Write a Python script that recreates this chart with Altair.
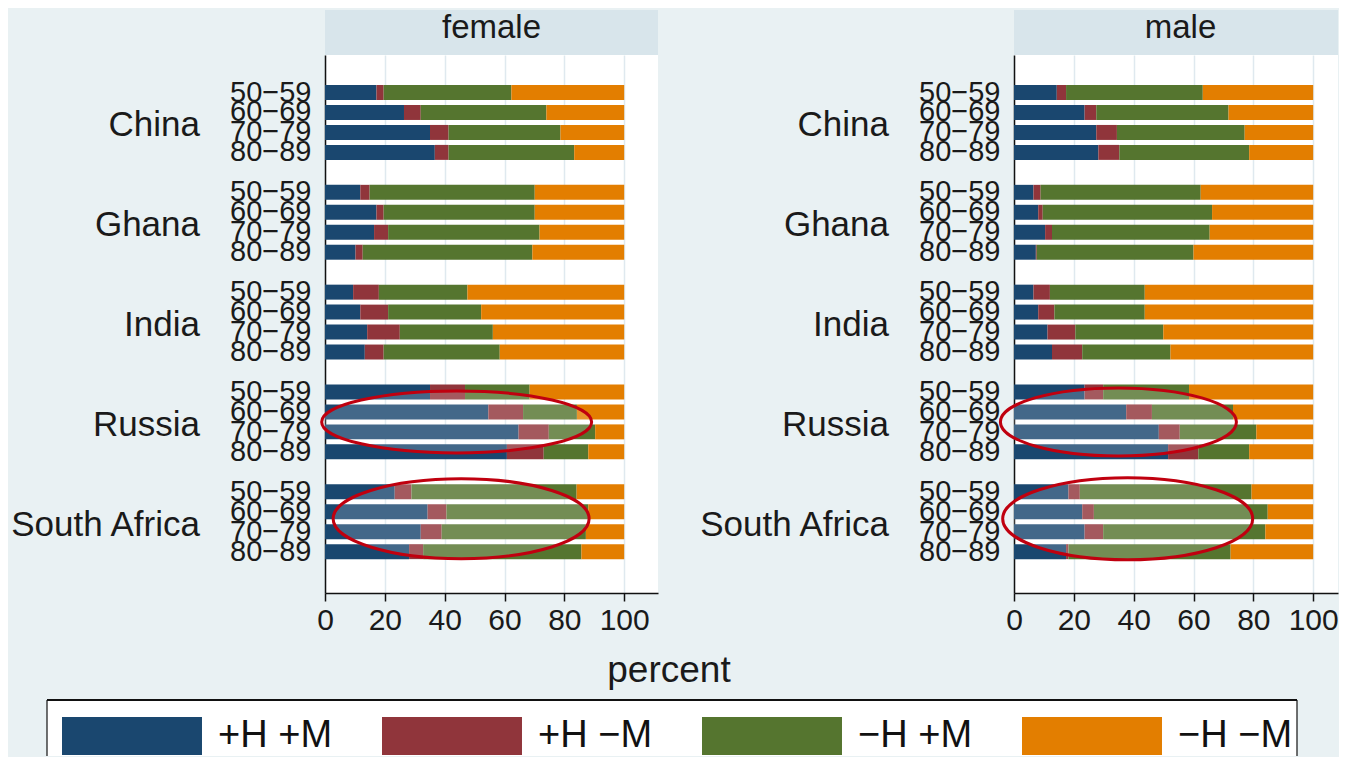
import altair as alt
import pandas as pd

# ---------------- data ----------------
countries = ["China", "Ghana", "India", "Russia", "South Africa"]
ages = ["50−59", "60−69", "70−79", "80−89"]
categories = ["+H +M", "+H −M", "−H +M", "−H −M"]
colors = ["#1a476f", "#90353b", "#55752f", "#e37e00"]
sexes = ["female", "male"]

# values ordered country by country, age groups within (percent of row)
female_hp_mp = [17.2, 26.4, 35.1, 36.7, 11.8, 17.2, 16.4, 10.2, 9.4, 11.8, 14.1, 13.3,
                35.1, 54.6, 64.7, 60.8, 23.3, 34.3, 32.0, 28.1]
female_hp_mn = [2.4, 5.6, 6.2, 4.6, 3.1, 2.4, 4.7, 2.4, 8.6, 9.3, 10.9, 6.3,
                11.7, 11.6, 10.1, 12.3, 5.6, 6.3, 7.0, 4.7]
female_hn_mp = [42.7, 42.0, 37.4, 42.0, 55.2, 50.5, 50.6, 56.7, 29.6, 31.1, 31.1, 38.8,
                21.6, 18.0, 15.5, 14.9, 55.2, 47.4, 48.2, 52.9]
female_hn_mn = [37.7, 26.0, 21.3, 16.7, 29.9, 29.9, 28.3, 30.7, 52.4, 47.8, 43.9, 41.6,
                31.6, 15.8, 9.7, 12.0, 15.9, 12.0, 12.8, 14.3]

male_hp_mp = [14.3, 23.6, 27.5, 28.2, 6.5, 8.1, 10.4, 7.3, 6.5, 8.1, 11.2, 12.7,
              23.6, 37.5, 48.4, 51.5, 18.2, 22.8, 23.6, 17.4]
male_hp_mn = [3.1, 3.9, 6.9, 7.0, 2.4, 1.5, 2.3, 0.3, 5.5, 5.4, 9.3, 10.1,
              6.2, 8.6, 7.0, 10.1, 3.8, 3.9, 6.2, 0.8]
male_hn_mp = [45.7, 44.2, 42.7, 43.4, 53.5, 56.6, 52.7, 52.4, 31.7, 30.2, 29.4, 29.5,
              28.7, 27.1, 25.6, 17.0, 57.4, 58.1, 54.2, 54.2]
male_hn_mn = [36.9, 28.3, 22.9, 21.4, 37.6, 33.8, 34.6, 40.0, 56.3, 56.3, 50.1, 47.7,
              41.5, 26.8, 19.0, 21.4, 20.6, 15.2, 16.0, 27.6]

series = {
    "female": [female_hp_mp, female_hp_mn, female_hn_mp, female_hn_mn],
    "male": [male_hp_mp, male_hp_mn, male_hn_mp, male_hn_mn],
}

# highlighted groups (annotation ellipses): centre value on x axis
highlights = {
    "female": [("Russia", 44.0), ("South Africa", 45.5)],
    "male": [("Russia", 34.9), ("South Africa", 38.0)],
}

# ---------------- tables ----------------
rows = []
for sex in sexes:
    for ci, cat in enumerate(categories):
        vals = series[sex][ci]
        i = 0
        for c in countries:
            for a in ages:
                rows.append({"sex": sex, "country": c, "age": a, "key": f"{c}|{a}",
                             "cat": cat, "ord": ci, "pct": vals[i]})
                i += 1
df = pd.DataFrame(rows)

y_domain = ["top|gap"]
for n, c in enumerate(countries):
    y_domain += [f"{c}|{a}" for a in ages]
    y_domain.append(f"{c}|gap")

FONT = "Liberation Sans"
W, H = 333, 538
XMAX = 111.3
# the right panel is cut by the picture's edge: same scale, shorter extent
PANEL_W = {"female": W, "male": 324}

y_scale = alt.Scale(domain=y_domain, paddingInner=0.25, paddingOuter=0.6, align=0.42)
y_axis = alt.Axis(title=None,
                  labelExpr="split(datum.value,'|')[1] == 'gap' ? '' : split(datum.value,'|')[1]",
                  ticks=False, tickSize=0, labelFontSize=29, labelPadding=14, labelOverlap=False,
                  domainColor="#111111", domainWidth=1.5, labelColor="#1a1a1a", grid=False,
                  labelFont=FONT)
x_axis = alt.Axis(title=None, values=[0, 20, 40, 60, 80, 100], labelFontSize=30, tickSize=8,
                  tickColor="#111111", tickWidth=1.5, domainColor="#111111", domainWidth=1.5,
                  labelPadding=4, grid=True, gridColor="#dfe9ef", gridWidth=1.5,
                  labelColor="#1a1a1a", labelFont=FONT, labelFlush=False)

legend_symbol = "M-1,-1L6.368,-1L6.368,1L-1,1Z"


def ellipse_path(r):
    k = 0.5523
    return (f"M-1,0C-1,{-k*r:.4f},{-k:.4f},{-r:.4f},0,{-r:.4f}"
            f"C{k:.4f},{-r:.4f},1,{-k*r:.4f},1,0"
            f"C1,{k*r:.4f},{k:.4f},{r:.4f},0,{r:.4f}"
            f"C{-k:.4f},{r:.4f},-1,{k*r:.4f},-1,0Z")


# ellipse shape (half width px, half height px, dy px) per highlight
ellipse_style = {
    ("female", "Russia"): (135, 31, 10),
    ("female", "South Africa"): (128, 40, 7),
    ("male", "Russia"): (118, 34, 10),
    ("male", "South Africa"): (125, 41, 7),
}


def panel(sex, show_legend):
    pw = PANEL_W[sex]
    xmax = XMAX * pw / W
    d = df[df.sex == sex]
    layers = []
    if show_legend:
        # legend frame (bottom edge runs off the picture)
        one = alt.Chart(pd.DataFrame({"b": [0]}))
        layers.append(one.mark_rect(fill="white", strokeWidth=0).encode(
            x=alt.value(-278), x2=alt.value(972), y=alt.value(645), y2=alt.value(701)))
        layers.append(one.mark_rule(color="#111111", strokeWidth=2).encode(
            x=alt.value(-278), x2=alt.value(972), y=alt.value(645)))
        layers.append(one.mark_rule(color="#111111", strokeWidth=1.2).encode(
            x=alt.value(-278), y=alt.value(645), y2=alt.value(701)))
        layers.append(one.mark_rule(color="#111111", strokeWidth=1.2).encode(
            x=alt.value(972), y=alt.value(645), y2=alt.value(701)))
    bars = alt.Chart(d).mark_bar(strokeWidth=0).encode(
        x=alt.X("pct:Q", stack="zero", scale=alt.Scale(domain=[0, xmax], nice=False), axis=x_axis),
        y=alt.Y("key:N", scale=y_scale, axis=y_axis),
        color=alt.Color("cat:N", scale=alt.Scale(domain=categories, range=colors),
                        legend=alt.Legend(
                            title=None, orient="none", legendX=-263, legendY=662,
                            direction="horizontal", columns=4, symbolType=legend_symbol,
                            symbolSize=1444, symbolStrokeWidth=0, symbolOpacity=1,
                            labelFontSize=38, labelFont=FONT, labelColor="#111111",
                            labelOffset=118, columnPadding=49, padding=0,
                            labelLimit=400) if show_legend else None),
        order=alt.Order("ord:Q"),
    )
    layers.append(bars)
    for c, xc in highlights[sex]:
        hw, hh, dy = ellipse_style[(sex, c)]
        e = alt.Chart(pd.DataFrame({"x": [xc], "key": [f"{c}|{ages[1]}"]})).mark_point(
            shape=ellipse_path(hh / hw), size=(2 * hw) ** 2, filled=True, fill="white",
            fillOpacity=0.18, stroke="#c0000f", strokeWidth=3, strokeOpacity=1, opacity=1,
            yOffset=dy,
        ).encode(x="x:Q", y=alt.Y("key:N", scale=y_scale, axis=y_axis))
        layers.append(e)
    lab = pd.DataFrame({"country": countries, "key": [f"{c}|{ages[1]}" for c in countries]})
    ctext = alt.Chart(lab).mark_text(align="right", baseline="middle", fontSize=35, font=FONT,
                                     color="#1a1a1a", dy=13).encode(
        x=alt.value(-125), y=alt.Y("key:N", scale=y_scale, axis=y_axis), text="country:N")
    layers.append(ctext)
    head = alt.Chart(pd.DataFrame({"label": [sex]}))
    hrect = head.mark_rect(color="#d8e5eb").encode(
        x=alt.value(0), x2=alt.value(pw), y=alt.value(-45), y2=alt.value(0))
    htext = head.mark_text(fontSize=33, font=FONT, color="#1a1a1a", baseline="middle").encode(
        x=alt.value(W / 2), y=alt.value(-27), text="label:N")
    layers += [hrect, htext]
    if show_legend:
        ptext = alt.Chart(pd.DataFrame({"t": ["percent"]})).mark_text(
            fontSize=37, font=FONT, color="#1a1a1a", baseline="alphabetic").encode(
            x=alt.value(344), y=alt.value(627), text="t:N")
        layers.append(ptext)
    return alt.layer(*layers).properties(width=pw, height=H)


chart = alt.hconcat(panel("female", True), panel("male", False), spacing=356, bounds="flush").configure(
    background="#e9f1f3", padding={"left": 1, "top": 2, "right": 0, "bottom": 0}, font=FONT
).configure_view(fill="white", stroke=None)

chart.save("out.html", embed_options={"renderer": "svg", "actions": False})
